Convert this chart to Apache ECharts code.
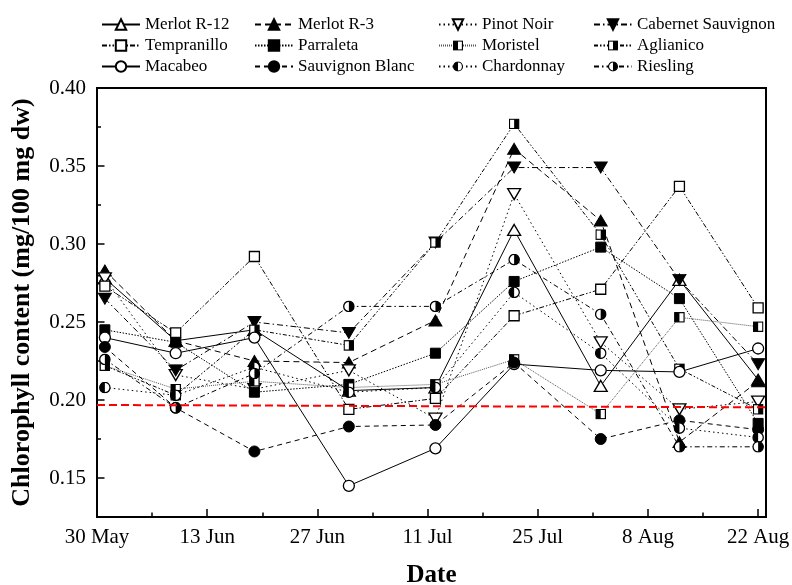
<!DOCTYPE html>
<html>
<head>
<meta charset="utf-8">
<script src="https://cdn.jsdelivr.net/npm/echarts@6/dist/echarts.min.js"></script>
<style>
  html, body { margin: 0; padding: 0; background: #fff; }
  #chart { width: 792px; height: 585px; }
</style>
</head>
<body>
<div id="chart"></div>
<script>
// days counted from 30 May
var sampleDays = [1, 10, 20, 32, 43, 53, 64, 74, 84];
var xTickDays = [0, 14, 28, 42, 56, 70, 84];
var xTickLabels = ['30 May', '13 Jun', '27 Jun', '11 Jul', '25 Jul', '8 Aug', '22 Aug'];
var xMinorDays = [7, 21, 35, 49, 63, 77];
var yTickValues = [0.15, 0.20, 0.25, 0.30, 0.35, 0.40];
var yMinorValues = [0.175, 0.225, 0.275, 0.325, 0.375];

var merlotR12 = [0.278, 0.238, 0.245, 0.206, 0.208, 0.309, 0.209, 0.277, 0.213];
var merlotR3 = [0.283, 0.238, 0.225, 0.224, 0.251, 0.361, 0.315, 0.173, 0.212];
var pinotNoir = [0.278, 0.216, 0.207, 0.219, 0.188, 0.332, 0.237, 0.194, 0.199];
var cabernet = [0.265, 0.219, 0.250, 0.243, 0.301, 0.349, 0.349, 0.277, 0.223];
var tempranillo = [0.273, 0.243, 0.292, 0.194, 0.201, 0.254, 0.271, 0.337, 0.259];
var parraleta = [0.245, 0.237, 0.205, 0.210, 0.230, 0.276, 0.298, 0.265, 0.185];
var moristel = [0.222, 0.207, 0.212, 0.208, 0.210, 0.226, 0.191, 0.253, 0.247];
var aglianico = [0.222, 0.203, 0.245, 0.235, 0.301, 0.377, 0.306, 0.220, 0.194];
var macabeo = [0.240, 0.230, 0.240, 0.145, 0.169, 0.223, 0.219, 0.218, 0.233];
var sauvignonBlanc = [0.234, 0.195, 0.167, 0.183, 0.184, 0.224, 0.175, 0.187, 0.181];
var chardonnay = [0.208, 0.203, 0.221, 0.205, 0.208, 0.269, 0.230, 0.182, 0.176];
var riesling = [0.226, 0.195, 0.217, 0.260, 0.260, 0.290, 0.255, 0.170, 0.170];

// reference line (start day, end day) and its values
var refDays = [0, 85];
var refValues = [0.1968, 0.1953];

var FONT = "'Liberation Serif', 'Times New Roman', serif";

function svgImg(body) {
  return 'image://data:image/svg+xml;charset=utf-8,' + encodeURIComponent(
    "<svg xmlns='http://www.w3.org/2000/svg' width='20' height='20' viewBox='0 0 20 20'>" + body + "</svg>");
}
var triUp = 'path://M5,0L10,8.66L0,8.66Z';
var triDown = 'path://M0,0L10,0L5,8.66Z';
var halfSqLeft = svgImg("<rect x='1.5' y='1.5' width='17' height='17' fill='white' stroke='black' stroke-width='2.2'/><rect x='1.5' y='1.5' width='8.5' height='17' fill='black'/>");
var halfSqRight = svgImg("<rect x='1.5' y='1.5' width='17' height='17' fill='white' stroke='black' stroke-width='2.2'/><rect x='10' y='1.5' width='8.5' height='17' fill='black'/>");
var halfCircLeft = svgImg("<circle cx='10' cy='10' r='8.6' fill='white' stroke='black' stroke-width='2.2'/><path d='M10 1.4 A8.6 8.6 0 0 0 10 18.6 Z' fill='black'/>");
var halfCircRight = svgImg("<circle cx='10' cy='10' r='8.6' fill='white' stroke='black' stroke-width='2.2'/><path d='M10 1.4 A8.6 8.6 0 0 1 10 18.6 Z' fill='black'/>");

var open = { color: '#fff', borderColor: '#000', borderWidth: 1.3 };
var filled = { color: '#000', borderColor: '#000', borderWidth: 1 };

function mk(name, values, symbol, size, item, dash, lineColor) {
  return {
    name: name,
    type: 'line',
    data: sampleDays.map(function (d, i) { return [d, values[i]]; }),
    symbol: symbol,
    symbolSize: size,
    showAllSymbol: true,
    itemStyle: item || filled,
    lineStyle: { color: lineColor || '#000', width: 1, type: dash },
    emphasis: { disabled: true },
    animation: false
  };
}

var series = [
  mk('Merlot R-12', merlotR12, triUp, [13, 11], open, 'solid'),
  mk('Merlot R-3', merlotR3, triUp, [13, 11], filled, [6, 4]),
  mk('Pinot Noir', pinotNoir, triDown, [13, 11], open, [1.5, 3]),
  mk('Cabernet Sauvignon', cabernet, triDown, [13, 11], filled, [6, 3, 1.5, 3]),
  mk('Tempranillo', tempranillo, 'rect', 10, open, [5, 2, 1.5, 2, 1.5, 2]),
  mk('Parraleta', parraleta, 'rect', 10, filled, [1.5, 1.5]),
  mk('Moristel', moristel, halfSqLeft, 11, null, [1, 1], '#555'),
  mk('Aglianico', aglianico, halfSqRight, 11, null, [4, 2, 1.5, 2, 1.5, 2]),
  mk('Macabeo', macabeo, 'circle', 11, open, 'solid'),
  mk('Sauvignon Blanc', sauvignonBlanc, 'circle', 11, filled, [5, 4]),
  mk('Chardonnay', chardonnay, halfCircLeft, 12, null, [1.5, 3]),
  mk('Riesling', riesling, halfCircRight, 12, null, [5, 3, 1.5, 3])
];

series[0].markLine = {
  silent: true,
  symbol: 'none',
  label: { show: false },
  lineStyle: { color: '#ff0000', width: 2, type: [8, 4] },
  data: [[{ coord: [refDays[0], refValues[0]] }, { coord: [refDays[1], refValues[1]] }]]
};

var names = series.map(function (s) { return s.name; });
var legendCols = [96, 249, 433, 588];
var legends = legendCols.map(function (x, c) {
  return {
    orient: 'vertical',
    left: x,
    top: 11,
    itemWidth: 38,
    itemHeight: 13,
    itemGap: 4,
    data: [names[c], names[c + 4], names[c + 8]],
    textStyle: { fontFamily: FONT, fontSize: 17, color: '#000' },
    selectedMode: false
  };
});

var chart = echarts.init(document.getElementById('chart'), null, { renderer: 'canvas' });

chart.setOption({
  backgroundColor: '#fff',
  animation: false,
  legend: legends,
  grid: {
    left: 97, right: 26, top: 88, bottom: 68,
    outerBoundsMode: 'none',
    show: true, borderColor: '#000', borderWidth: 2, backgroundColor: 'transparent'
  },
  xAxis: [{
    type: 'value', min: 0, max: 85,
    axisLine: { lineStyle: { color: '#000', width: 2 } },
    axisTick: { inside: true, length: 8, lineStyle: { color: '#000', width: 1.5 }, customValues: xTickDays },
    axisLabel: {
      customValues: xTickDays,
      formatter: function (v) { return xTickLabels[xTickDays.indexOf(v)]; },
      fontFamily: FONT, fontSize: 21, color: '#000', margin: 10
    },
    splitLine: { show: false },
    name: 'Date', nameLocation: 'middle', nameGap: 46,
    nameTextStyle: { fontFamily: FONT, fontSize: 25, fontWeight: 'bold', color: '#000' }
  }, {
    type: 'value', min: 0, max: 85, position: 'bottom',
    axisLine: { show: false },
    axisTick: { inside: true, length: 4.5, lineStyle: { color: '#000', width: 1.5 }, customValues: xMinorDays },
    axisLabel: { show: false },
    splitLine: { show: false }
  }],
  yAxis: [{
    type: 'value', min: 0.125, max: 0.40,
    axisLine: { show: true, lineStyle: { color: '#000', width: 2 } },
    axisTick: { show: true, inside: true, length: 7.5, lineStyle: { color: '#000', width: 1.5 }, customValues: yTickValues },
    axisLabel: {
      customValues: yTickValues,
      formatter: function (v) { return v.toFixed(2); },
      fontFamily: FONT, fontSize: 21, color: '#000', margin: 11
    },
    splitLine: { show: false },
    name: 'Chlorophyll content (mg/100 mg dw)', nameLocation: 'middle', nameGap: 62,
    nameTextStyle: { fontFamily: FONT, fontSize: 26, fontWeight: 'bold', color: '#000' }
  }, {
    type: 'value', min: 0.125, max: 0.40, position: 'left', offset: 0,
    axisLine: { show: false },
    axisTick: { show: true, inside: true, length: 4, lineStyle: { color: '#000', width: 1.5 }, customValues: yMinorValues },
    axisLabel: { show: false },
    splitLine: { show: false }
  }],
  series: series
});
</script>
</body>
</html>
